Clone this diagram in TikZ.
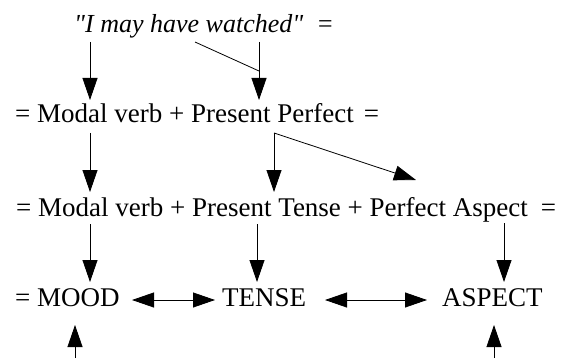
\documentclass[tikz,border=0pt]{standalone}
\usepackage{fontspec}
\setmainfont{Liberation Serif}[Ligatures=TeXOff]
\usetikzlibrary{arrows.meta}
\begin{document}
\begin{tikzpicture}[x=1pt,y=-1pt,
  txt/.style={anchor=base west,inner sep=0pt,font=\fontsize{27}{30}\selectfont},
  conn/.style={line width=0.8pt,-{Triangle[length=22pt,width=15pt]}},
  both/.style={line width=0.8pt,{Triangle[length=22pt,width=15pt]}-{Triangle[length=22pt,width=15pt]}},
  joinline/.style={line width=0.8pt}]
\useasboundingbox (0,0) rectangle (561,358);

% rows of the derivation
\node[txt,font=\fontsize{26}{30}\selectfont\itshape] (r1) at (74,33) {"I may have watched"\hspace{13pt}=};
\node[txt] (r2) at (15,123) {= Modal verb + Present Perfect\hspace{10pt}=};
\node[txt] (r3) at (16,216) {= Modal verb + Present Tense + Perfect Aspect\hspace{13pt}=};
\node[txt] (mood) at (15,306) {= MOOD};
\node[txt] (tense) at (222,306) {TENSE};
\node[txt] (aspect) at (442,306) {ASPECT};

% connector end points
\coordinate (p1a) at (90,42);   \coordinate (p1b) at (90,100);
\coordinate (p2a) at (259,42);  \coordinate (p2j) at (259,71);
\coordinate (p2b) at (259,100); \coordinate (p2c) at (195,42);
\coordinate (p3a) at (90,133);  \coordinate (p3b) at (90,192);
\coordinate (p4a) at (274,133); \coordinate (p4b) at (274,192);
\coordinate (p5b) at (416,180);
\coordinate (p6a) at (90,224);  \coordinate (p6b) at (90,282);
\coordinate (p7a) at (257,224); \coordinate (p7b) at (257,282);
\coordinate (p8a) at (504,223); \coordinate (p8b) at (504,282);
\coordinate (p9a) at (132,300); \coordinate (p9b) at (215,300);
\coordinate (p10a) at (325,300); \coordinate (p10b) at (427,300);
\coordinate (p11a) at (75,358); \coordinate (p11b) at (75,325);
\coordinate (p12a) at (494,358); \coordinate (p12b) at (494,325);

% row 1 -> row 2
\draw[conn] (p1a) -- (p1b);
\draw[conn] (p2a) -- (p2b);
\draw[joinline] (p2c) -- (p2j);
% row 2 -> row 3
\draw[conn] (p3a) -- (p3b);
\draw[conn] (p4a) -- (p4b);
\draw[conn] (p4a) -- (p5b);
% row 3 -> row 4
\draw[conn] (p6a) -- (p6b);
\draw[conn] (p7a) -- (p7b);
\draw[conn] (p8a) -- (p8b);
% relations between the categories
\draw[both] (p9a) -- (p9b);
\draw[both] (p10a) -- (p10b);
% arrows rising from below
\draw[conn] (p11a) -- (p11b);
\draw[conn] (p12a) -- (p12b);
\end{tikzpicture}
\end{document}
